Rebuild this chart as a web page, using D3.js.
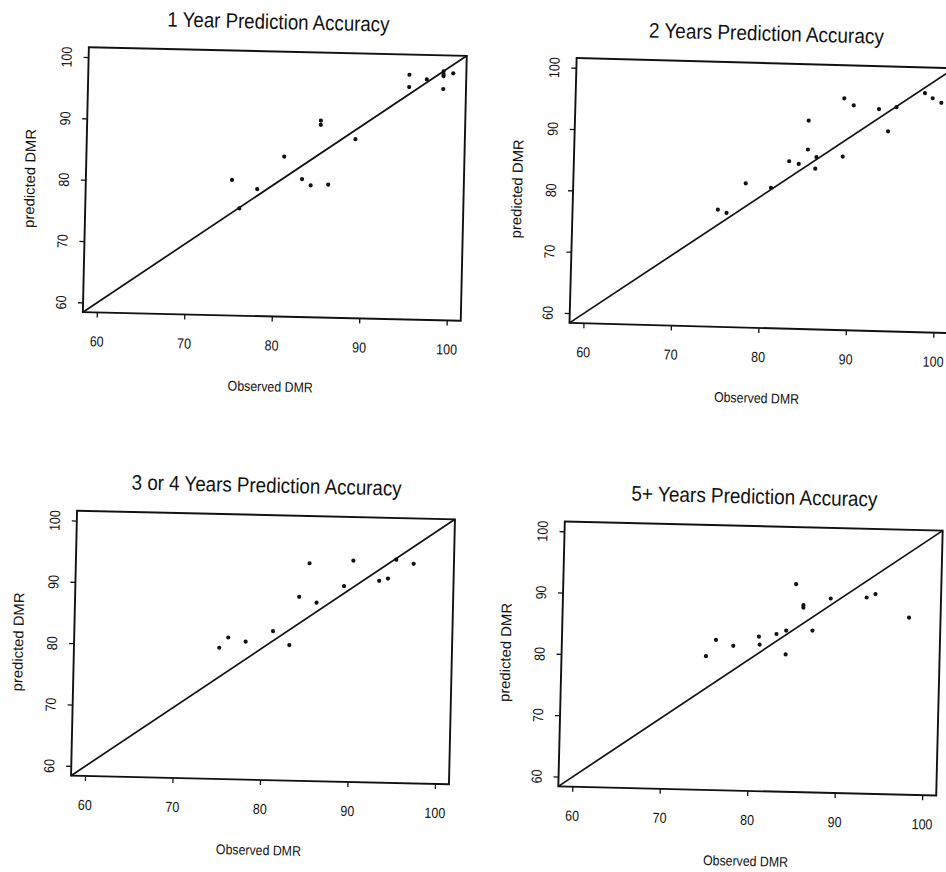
<!DOCTYPE html>
<html><head><meta charset="utf-8">
<script src="https://d3js.org/d3.v7.min.js"></script>
<style>
body{margin:0;background:#fff}
text{font-family:"Liberation Sans Narrow","Arial Narrow","Liberation Sans",Arial,sans-serif;fill:#111}
</style>
</head><body>
<svg id="chart" width="946" height="872"></svg>
<script>
// ticks and text
const ticks = [60, 70, 80, 90, 100];
const titles = ["1 Year Prediction Accuracy", "2 Years Prediction Accuracy", "3 or 4 Years Prediction Accuracy", "5+ Years Prediction Accuracy"];
const xLabel = "Observed DMR";
const yLabel = "predicted DMR";

// observed vs predicted DMR
const obs1 = [75.1, 76.0, 78.0, 81.0, 83.1, 84.1, 86.1, 85.1, 85.1, 89.1, 95.1, 95.1, 97.1, 99.0, 99.0, 99.0, 99.0, 100.1];
const pred1 = [80.5, 75.9, 79.1, 84.5, 80.9, 79.9, 80.1, 90.5, 89.8, 87.6, 98.3, 96.3, 97.6, 99.0, 98.5, 98.2, 96.1, 98.7];

const obs2 = [75.0, 76.0, 78.1, 81.0, 83.0, 84.1, 85.1, 85.1, 86.1, 86.0, 89.1, 89.1, 90.2, 93.1, 94.2, 95.1, 98.3, 99.2, 100.2];
const pred2 = [77.5, 77.0, 81.9, 81.3, 85.7, 85.3, 92.4, 87.7, 86.5, 84.6, 86.7, 96.2, 95.1, 94.6, 91.0, 95.0, 97.4, 96.6, 95.9];

const obs3 = [75.0, 76.0, 78.0, 81.1, 83.0, 84.0, 85.1, 86.0, 89.1, 90.1, 93.1, 94.1, 95.0, 97.0];
const pred3 = [79.8, 81.5, 80.9, 82.7, 80.5, 88.4, 93.9, 87.5, 90.3, 94.5, 91.3, 91.7, 94.8, 94.2];

const obs4 = [74.9, 76.0, 78.0, 80.9, 81.0, 82.9, 84.0, 84.0, 85.0, 85.9, 85.9, 87.0, 89.0, 93.1, 94.1, 98.0];
const pred4 = [80.2, 82.9, 82.0, 83.6, 82.3, 84.1, 84.7, 80.8, 92.3, 88.9, 88.5, 84.8, 90.1, 90.4, 91.0, 87.3];

const obsAll = [obs1, obs2, obs3, obs4];
const predAll = [pred1, pred2, pred3, pred4];

let svg = d3.select("svg#chart");
const W = 378, H = 265;

// scanned pages are a bit crooked, so each panel gets its own centre + tilt
const layout = [
    {cx: 274.8, cy: 184, rot: 1.3, tw: 222},
    {cx: 762, cy: 195.5, rot: 1.55, tw: 235},
    {cx: 263, cy: 647.5, rot: 1.3, tw: 270},
    {cx: 750.5, cy: 658.5, rot: 1.4, tw: 246}
];

// R style: range 60-100 padded by 4%
const lo = 60 - 1.6, hi = 100 + 1.6;

layout.forEach((p, i) => {
    let g = svg.append("g")
        .attr("transform", "translate(" + p.cx + "," + p.cy + ") rotate(" + p.rot + ")");

    let xScale = d3.scaleLinear().domain([lo, hi]).range([-W/2, W/2]);
    let yScale = d3.scaleLinear().domain([lo, hi]).range([H/2, -H/2]);

    //axes
    let bottom = g.append("g")
        .attr("transform", "translate(0," + H/2 + ")")
        .call(d3.axisBottom(xScale).tickValues(ticks).tickSize(5));
    bottom.select(".domain").remove();
    bottom.selectAll("line").attr("stroke", "#111").attr("stroke-width", 1.3);
    bottom.selectAll("text")
        .attr("y", 34).attr("dy", 0)
        .attr("transform", "scale(0.86,1)")   // narrow digits like the scan
        .style("font-size", "14.5px");

    let left = g.append("g")
        .attr("transform", "translate(" + (-W/2) + ",0)")
        .call(d3.axisLeft(yScale).tickValues(ticks).tickSize(5));
    left.select(".domain").remove();
    left.selectAll("line").attr("stroke", "#111").attr("stroke-width", 1.3);
    left.selectAll("text")
        .attr("x", 0).attr("y", 0).attr("dy", 0)
        .attr("text-anchor", "middle")
        .attr("transform", "translate(-17,0) rotate(-90) scale(0.86,1)")
        .style("font-size", "14.5px");

    //frame
    g.append("rect")
        .attr("x", xScale(lo)).attr("y", yScale(hi))
        .attr("width", xScale(hi) - xScale(lo))
        .attr("height", yScale(lo) - yScale(hi))
        .attr("fill", "none").attr("stroke", "#111").attr("stroke-width", 1.9);

    //y = x line
    g.append("line")
        .attr("x1", xScale(lo)).attr("y1", yScale(lo))
        .attr("x2", xScale(hi)).attr("y2", yScale(hi))
        .attr("stroke", "#111").attr("stroke-width", 1.7);

    //points
    obsAll[i].forEach((d, j) => {
        g.append("circle")
            .attr("cx", xScale(d))
            .attr("cy", yScale(predAll[i][j]))
            .attr("r", 2.1)
            .style("fill", "#111");
    });

    //labels
    g.append("text")
        .attr("x", 0).attr("y", -H/2 - 22.5)
        .attr("text-anchor", "middle")
        .attr("textLength", p.tw).attr("lengthAdjust", "spacingAndGlyphs")
        .style("font-size", "21px")
        .text(titles[i]);

    g.append("text")
        .attr("x", 0).attr("y", H/2 + 75)
        .attr("text-anchor", "middle")
        .attr("textLength", 85).attr("lengthAdjust", "spacingAndGlyphs")
        .style("font-size", "14px")
        .text(xLabel);

    g.append("text")
        .attr("transform", "translate(" + (-W/2 - 51) + ",0) rotate(-90)")
        .attr("text-anchor", "middle")
        .attr("textLength", 99).attr("lengthAdjust", "spacingAndGlyphs")
        .style("font-size", "14.5px")
        .text(yLabel);
});
</script>
</body></html>
